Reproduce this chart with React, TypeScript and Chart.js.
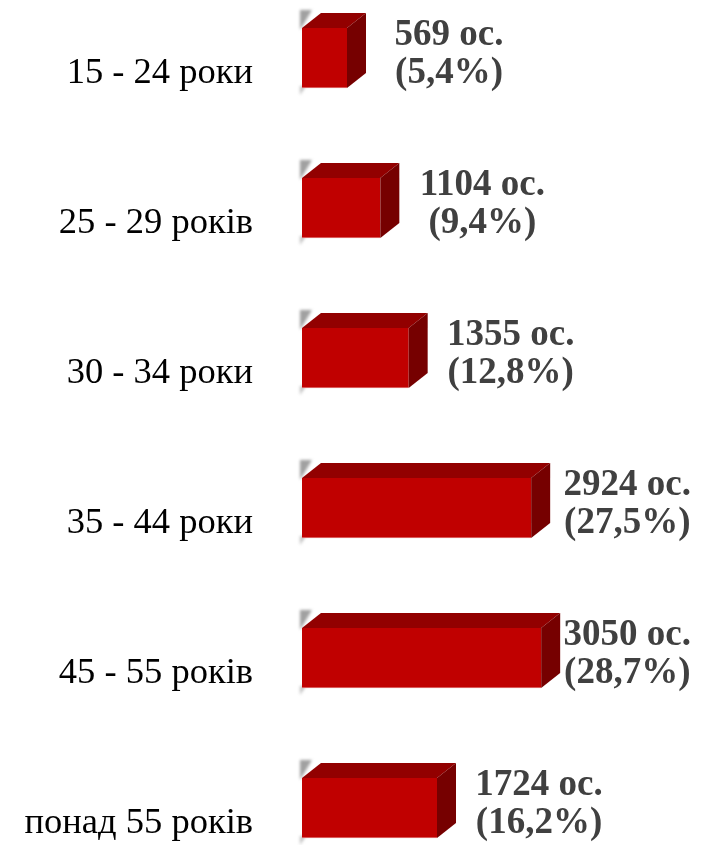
import React, { useEffect, useRef } from "react";
import { Chart, registerables } from "chart.js";

Chart.register(...registerables);

const categories = ["15 - 24 роки", "25 - 29 років", "30 - 34 роки", "35 - 44 роки", "45 - 55 років", "понад 55 років"];
const shares = [5.4, 9.4, 12.8, 27.5, 28.7, 16.2];
const counts = [569, 1104, 1355, 2924, 3050, 1724];
const shareLabels = ["(5,4%)", "(9,4%)", "(12,8%)", "(27,5%)", "(28,7%)", "(16,2%)"];

const DX = 19;
const DY = 15;

const bars3d = {
  id: "bars3d",
  beforeDatasetsDraw(chart: any) {
    const ctx = chart.ctx;
    const meta = chart.getDatasetMeta(0);
    meta.data.forEach((bar: any) => {
      const { y, base, height } = bar.getProps(["x", "y", "base", "height"], true);
      const top = y - height / 2;
      const bottom = y + height / 2;
      ctx.save();
      ctx.filter = "blur(1.5px)";
      ctx.fillStyle = "rgba(130,130,130,0.75)";
      ctx.beginPath();
      ctx.moveTo(base - 2, top + 2);
      ctx.lineTo(base - 2, top - DY - 3);
      ctx.lineTo(base + 10, top - DY - 3);
      ctx.closePath();
      ctx.fill();
      ctx.fillStyle = "rgba(150,150,150,0.6)";
      ctx.beginPath();
      ctx.moveTo(base - 2, bottom - 2);
      ctx.lineTo(base - 2, bottom + 7);
      ctx.lineTo(base + 4, bottom - 2);
      ctx.closePath();
      ctx.fill();
      ctx.restore();
    });
  },
  afterDatasetsDraw(chart: any) {
    const ctx = chart.ctx;
    const meta = chart.getDatasetMeta(0);
    meta.data.forEach((bar: any, i: number) => {
      const { x, y, base, height } = bar.getProps(["x", "y", "base", "height"], true);
      const top = y - height / 2;
      const bottom = y + height / 2;
      ctx.save();
      ctx.fillStyle = "#920000";
      ctx.beginPath();
      ctx.moveTo(base, top);
      ctx.lineTo(base + DX, top - DY);
      ctx.lineTo(x + DX, top - DY);
      ctx.lineTo(x, top);
      ctx.closePath();
      ctx.fill();
      ctx.fillStyle = "#760000";
      ctx.beginPath();
      ctx.moveTo(x, top);
      ctx.lineTo(x + DX, top - DY);
      ctx.lineTo(x + DX, bottom - DY);
      ctx.lineTo(x, bottom);
      ctx.closePath();
      ctx.fill();

      // value labels
      const l1 = `${counts[i]} ос.`;
      const l2 = shareLabels[i];
      ctx.font = "bold 37px 'Liberation Serif', 'Times New Roman', serif";
      ctx.fillStyle = "#404040";
      ctx.textAlign = "center";
      ctx.textBaseline = "alphabetic";
      const w = Math.max(ctx.measureText(l1).width, ctx.measureText(l2).width);
      const cx = Math.min(x + 102, 691 - w / 2);
      ctx.fillText(l1, cx, y - 13);
      ctx.fillText(l2, cx, y + 25);

      // category labels
      ctx.font = "36.5px 'Liberation Serif', 'Times New Roman', serif";
      ctx.fillStyle = "#000000";
      ctx.textAlign = "right";
      ctx.fillText(categories[i], 253, y + 25);
      ctx.restore();
    });
  },
};

export default function App() {
  const ref = useRef<HTMLCanvasElement | null>(null);
  useEffect(() => {
    document.body.style.margin = "0";
    const canvas = ref.current;
    if (!canvas) return;
    const chart = new Chart(canvas, {
      type: "bar",
      data: {
        labels: categories,
        datasets: [
          {
            data: shares,
            backgroundColor: "#C00000",
            borderColor: "#E07878",
            borderWidth: { top: 0, right: 0, bottom: 1, left: 0 },
            borderSkipped: false,
            barThickness: 60,
            clip: false,
          } as any,
        ],
      },
      options: {
        indexAxis: "y",
        responsive: false,
        animation: false,
        layout: { padding: { left: 302, right: 2, top: 58, bottom: 37 } },
        scales: {
          x: { min: 0, max: 48, display: false },
          y: { display: false, offset: false },
        },
        plugins: { legend: { display: false }, tooltip: { enabled: false } },
      } as any,
      plugins: [bars3d],
    });
    return () => chart.destroy();
  }, []);
  return (
    <div style={{ width: 704, height: 845, background: "#fff" }}>
      <canvas ref={ref} width={704} height={845} style={{ display: "block" }} />
    </div>
  );
}
